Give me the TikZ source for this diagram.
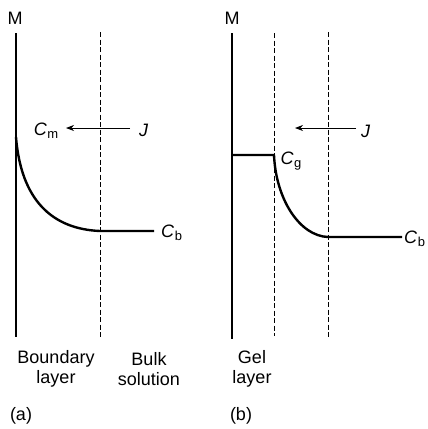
\documentclass[tikz,border=0pt]{standalone}
\usepackage{fontspec}
\setmainfont{Liberation Sans}
\usetikzlibrary{arrows.meta}
\begin{document}
\begin{tikzpicture}[x=1pt,y=-1pt,
  lbl/.style={font=\fontsize{18}{20}\selectfont, inner sep=0pt},
  wall/.style={line width=1.2pt},
  bnd/.style={line width=0.7pt, dash pattern=on 5pt off 2.5pt},
  prof/.style={line width=2.4pt},
  flux/.style={line width=0.8pt, -{Stealth[length=8pt,width=6pt,inset=2.5pt]}}]
\useasboundingbox (0,0) rectangle (428,429);
\newcommand{\conc}[1]{\textit{C}\kern0.5pt\raisebox{-0.35ex}{\fontsize{13}{13}\selectfont #1}}
% ---- panel (a)
\node[lbl] (Ma) at (15,18) {M};
\coordinate (wa1) at (16,33);
\coordinate (wa2) at (16,337);
\draw[wall] (wa1) -- (wa2);
\coordinate (da1) at (100,32);
\coordinate (da2) at (100,337);
\draw[bnd] (da1) -- (da2);
\node[lbl, anchor=west] (Ja) at (139,130) {\textit{J}};
\node[lbl] (Cm) at (46,131) {\conc{m}};
\coordinate (ta) at (130,128);
\coordinate (ha) at (66,128);
\draw[flux] (ta) -- (ha);
\coordinate (sa) at (16,137);
\coordinate (ea) at (100,231);
\coordinate (fa) at (154,231);
\node[lbl, anchor=west] (Cba) at (161,233) {\conc{b}};
\draw[prof, line join=round] (sa) .. controls (21,200) and (52,229) .. (ea) -- (fa);
\node[lbl, align=center] (BL) at (56,369) {Boundary\\layer};
\node[lbl, align=center] (BS) at (149,369) {Bulk\\solution};
\node[lbl] (pa) at (21,416) {(a)};
% ---- panel (b)
\node[lbl] (Mb) at (232,18) {M};
\coordinate (wb1) at (232,33);
\coordinate (wb2) at (232,339);
\draw[wall] (wb1) -- (wb2);
\coordinate (db1) at (274,33);
\coordinate (db2) at (274,336);
\draw[bnd] (db1) -- (db2);
\coordinate (dc1) at (328,32);
\coordinate (dc2) at (328,338);
\draw[bnd] (dc1) -- (dc2);
\node[lbl, anchor=west] (Jb) at (361,131) {\textit{J}};
\coordinate (tb) at (356,128);
\coordinate (hb) at (295,128);
\draw[flux] (tb) -- (hb);
\coordinate (gb) at (232,155);
\coordinate (sb) at (274,155);
\coordinate (eb) at (328,237);
\coordinate (fb) at (402,237);
\node[lbl] (Cg) at (291,161) {\conc{g}};
\draw[prof, line join=round] (gb) -- (sb) .. controls (276,200) and (300,236) .. (eb) -- (fb);
\node[lbl, anchor=west] (Cbb) at (404,239) {\conc{b}};
\node[lbl, align=center] (GL) at (252,369) {Gel\\layer};
\node[lbl] (pb) at (241,416) {(b)};
\end{tikzpicture}
\end{document}
